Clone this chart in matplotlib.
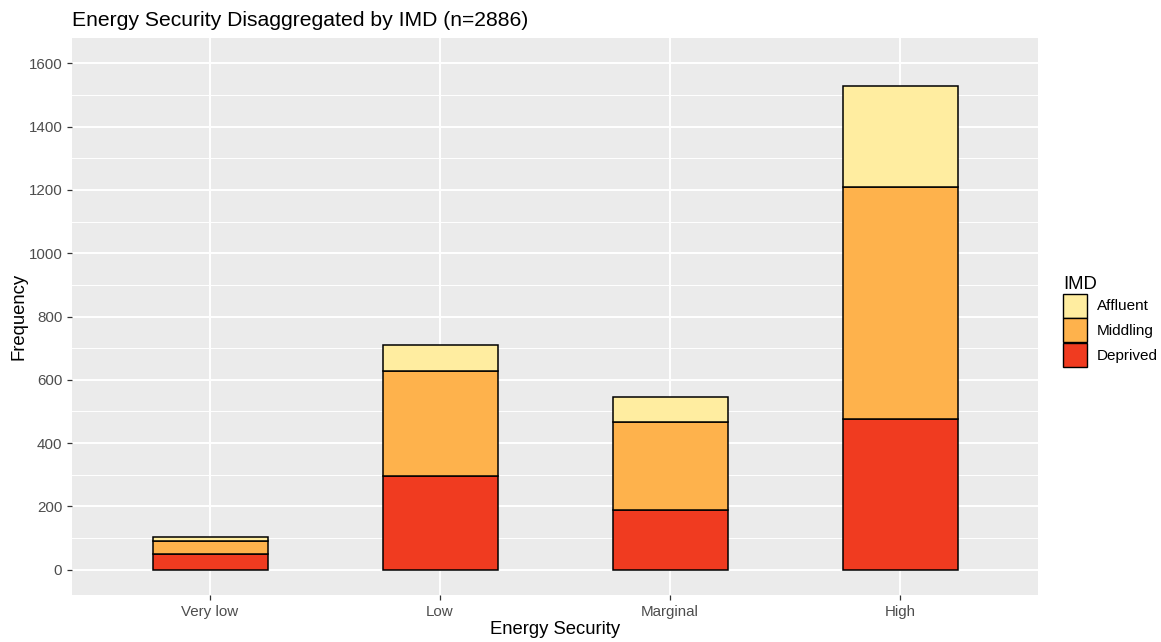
import matplotlib
matplotlib.use("Agg")
import matplotlib.pyplot as plt
import numpy as np
from matplotlib.patches import Patch

categories = ["Very low", "Low", "Marginal", "High"]
deprived = [50, 295, 188, 477]
middling = [42, 332, 279, 733]
affluent = [10, 83, 79, 318]
y_ticks = [0, 200, 400, 600, 800, 1000, 1200, 1400, 1600]

colors = {"Affluent": "#FFEDA0", "Middling": "#FEB24C", "Deprived": "#F03B20"}

plt.rcParams['font.family'] = ['Liberation Sans', 'DejaVu Sans']

fig = plt.figure(figsize=(11.61, 6.42), dpi=100)
W, H = 1161, 642
ax = fig.add_axes([72 / W, 1 - 595 / H, (1038 - 72) / W, (595 - 38) / H])
ax.set_facecolor("#EBEBEB")

x = np.arange(len(categories))
d = np.array(deprived)
m = np.array(middling)
a = np.array(affluent)
ax.bar(x, d, width=0.5, color=colors["Deprived"], edgecolor="black", linewidth=1.1, zorder=3)
ax.bar(x, m, width=0.5, bottom=d, color=colors["Middling"], edgecolor="black", linewidth=1.1, zorder=3)
ax.bar(x, a, width=0.5, bottom=d + m, color=colors["Affluent"], edgecolor="black", linewidth=1.1, zorder=3)

ax.set_xlim(-0.6, 3.6)
ax.set_ylim(-80, 1680)
ax.set_xticks(x)
ax.set_xticklabels(categories)
ax.set_yticks(y_ticks)
ax.set_yticks([100, 300, 500, 700, 900, 1100, 1300, 1500], minor=True)
ax.grid(which="major", color="white", linewidth=1.4, zorder=0)
ax.grid(which="minor", axis="y", color="white", linewidth=0.7, zorder=0)
ax.set_axisbelow(True)
for s in ax.spines.values():
    s.set_visible(False)
ax.tick_params(axis="both", which="major", length=3.5, color="#333333", labelcolor="#4D4D4D", labelsize=10.9, width=0.9)
ax.tick_params(axis="both", which="minor", length=0)
ax.set_xlabel("Energy Security", fontsize=13.3, labelpad=2)
ax.set_ylabel("Frequency", fontsize=13.3, labelpad=1)
fig.text(72 / W, 1 - 20 / H, "Energy Security Disaggregated by IMD (n=2886)", fontsize=15.2, va="center", ha="left")

handles = [Patch(facecolor=colors[k], edgecolor="black", linewidth=1.0, label=k) for k in ["Affluent", "Middling", "Deprived"]]
leg = fig.legend(handles=handles, title="IMD", loc="upper left", bbox_to_anchor=(1063 / W, 1 - 276 / H),
                 frameon=False, fontsize=11, title_fontsize=13.3, handlelength=1.55, handleheight=2.05,
                 handletextpad=0.65, labelspacing=0.04, borderaxespad=0, borderpad=0)
leg._legend_box.align = "left"

fig.savefig("out.png", dpi=100)
